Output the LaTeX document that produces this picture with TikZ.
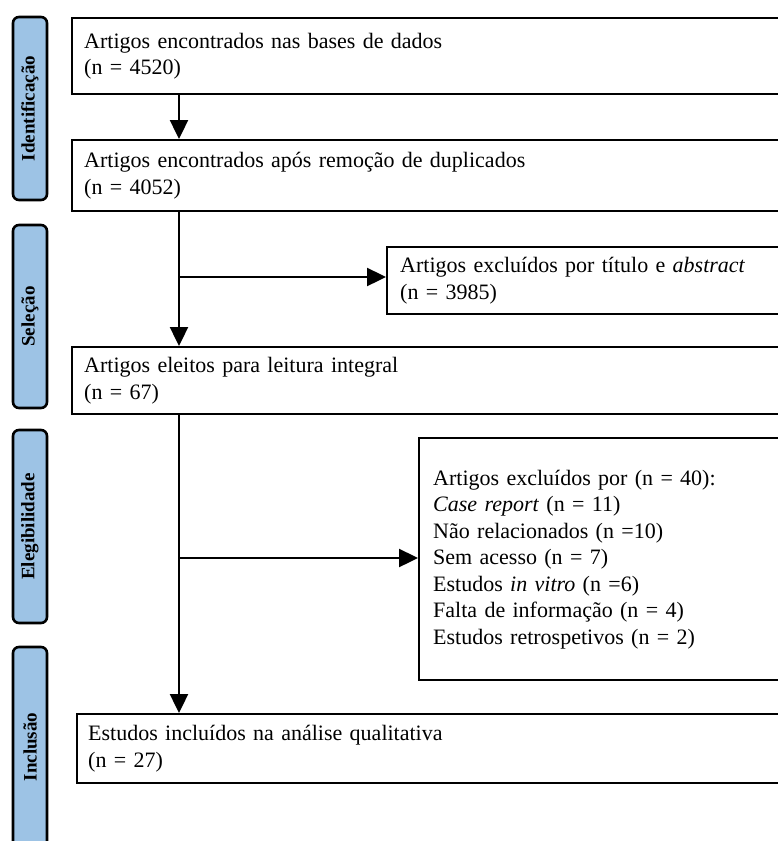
\documentclass[tikz,border=0pt]{standalone}
\usepackage{fontspec}
\setmainfont{Liberation Serif}
\usetikzlibrary{arrows.meta,calc}
\definecolor{labelblue}{RGB}{157,195,229}
\begin{document}
\begin{tikzpicture}[x=1pt,y=-1pt,
  box/.style={draw=black, line width=2.4pt, anchor=north west, align=left,
    font=\fontsize{22}{26.5}\selectfont, inner ysep=0pt},
  phase/.style={draw=black, line width=2.6pt, fill=labelblue, rounded corners=6pt,
    rotate=90, minimum height=34pt, inner sep=0pt,
    font=\fontsize{19}{22}\selectfont\bfseries},
  arr/.style={line width=2.4pt, -{Triangle[width=18pt,length=19pt]}}]
\useasboundingbox (0,0) rectangle (778,841);
\clip (0,0) rectangle (778,841);

% phase labels
\node[phase, minimum width=183pt] (p1) at (30,108.5) {Identificação};
\node[phase, minimum width=183pt] (p2) at (30,316.5) {Seleção};
\node[phase, minimum width=193pt] (p3) at (30,526.5) {Elegibilidade};
\node[phase, minimum width=200pt] (p4) at (30,747) {Inclusão};

% boxes
\node[box, inner xsep=12pt, minimum width=719pt, minimum height=76pt, text width=695pt]
  (b1) at (71,17) {Artigos encontrados nas bases de dados\\(n = 4520)};
\node[box, inner xsep=12pt, minimum width=719pt, minimum height=71pt, text width=695pt]
  (b2) at (71,139) {Artigos encontrados após remoção de duplicados\\(n = 4052)};
\node[box, inner xsep=13pt, minimum width=404pt, minimum height=67pt, text width=378pt]
  (b3) at (386,246) {Artigos excluídos por título e \textit{abstract}\\(n = 3985)};
\node[box, inner xsep=12pt, minimum width=719pt, minimum height=67pt, text width=695pt]
  (b4) at (71,346) {Artigos eleitos para leitura integral\\(n = 67)};
\node[box, inner xsep=14pt, minimum width=372pt, minimum height=242pt, text width=344pt]
  (b5) at (418,437) {Artigos excluídos por (n = 40):\\
  \textit{Case report} (n = 11)\\
  Não relacionados (n =10)\\
  Sem acesso (n = 7)\\
  Estudos \textit{in vitro} (n =6)\\
  Falta de informação (n = 4)\\
  Estudos retrospetivos (n = 2)};
\node[box, inner xsep=11pt, minimum width=714pt, minimum height=69pt, text width=692pt]
  (b6) at (76,713) {Estudos incluídos na análise qualitativa\\(n = 27)};

% connectors
\coordinate (m) at (179,0);
\coordinate (j1) at (179,277);
\coordinate (j2) at (179,558);
\draw[arr] (b1.south west -| m) -- (b2.north west -| m);
\draw[arr] (b2.south west -| m) -- (b4.north west -| m);
\draw[arr] (j1) -- (j1 -| b3.west);
\draw[arr] (b4.south west -| m) -- (b6.north west -| m);
\draw[arr] (j2) -- (j2 -| b5.west);
\end{tikzpicture}
\end{document}
